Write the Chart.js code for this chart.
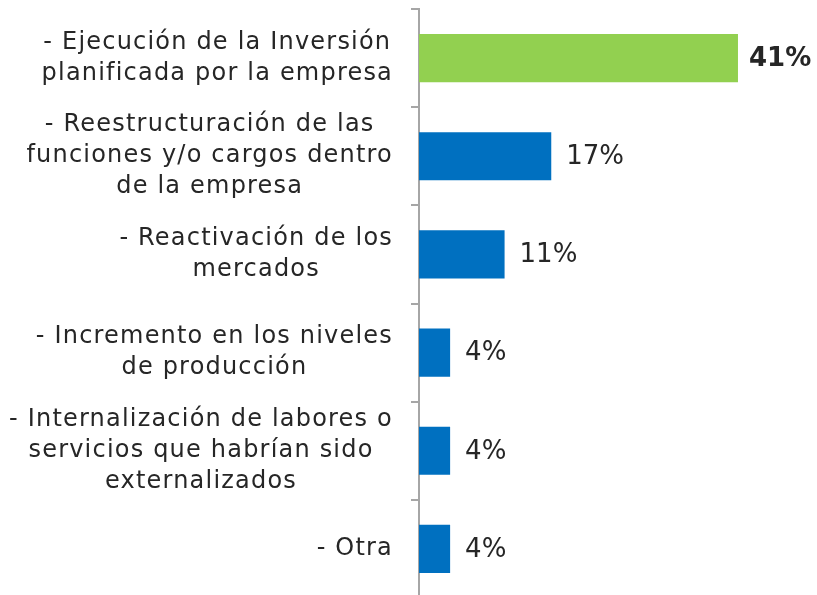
<!DOCTYPE html>
<html>
<head>
<meta charset="utf-8">
<script src="https://cdn.jsdelivr.net/npm/chart.js@4.4.1/dist/chart.umd.min.js"></script>
<style>
  html, body { margin: 0; padding: 0; background: #fff; overflow: hidden; }
  #wrap { width: 817px; height: 598px; }
</style>
</head>
<body>
<div id="wrap"><canvas id="chart"></canvas></div>
<script>
// data
const categories = [
  ["- Ejecución de la Inversión", "planificada por la empresa"],
  ["- Reestructuración de las", "funciones y/o cargos dentro", "de la empresa"],
  ["- Reactivación de los", "mercados"],
  ["- Incremento en los niveles", "de producción"],
  ["- Internalización de labores o", "servicios que habrían sido", "externalizados"],
  ["- Otra"]
];
const values = [41, 17, 11, 4, 4, 4];
const barColors = ["#92D050", "#0070C0", "#0070C0", "#0070C0", "#0070C0", "#0070C0"];
const boldLabel = [true, false, false, false, false, false];

const FONT = "'DejaVu Sans', sans-serif";
const TEXT = "#262626";

// draws category labels: block right-aligned, lines centered inside block
const catLabels = {
  id: "catLabels",
  afterDraw(chart){
    const ctx = chart.ctx;
    const y = chart.scales.y;
    const rightEdge = y.right - 26;
    const lh = 31;
    ctx.save();
    ctx.font = "24px " + FONT;
    ctx.letterSpacing = "1.2px";
    ctx.fillStyle = TEXT;
    ctx.textAlign = "center";
    ctx.textBaseline = "middle";
    categories.forEach((lines, i) => {
      const cy = y.getPixelForValue(i);
      const w = Math.max(...lines.map(l => ctx.measureText(l).width));
      const cx = rightEdge - w / 2;
      const top = cy - (lines.length - 1) * lh / 2;
      lines.forEach((l, k) => ctx.fillText(l, cx, top + k * lh));
    });
    ctx.restore();
  }
};

// value labels after each bar
const valueLabels = {
  id: "valueLabels",
  afterDatasetsDraw(chart){
    const ctx = chart.ctx;
    const meta = chart.getDatasetMeta(0);
    ctx.save();
    ctx.fillStyle = TEXT;
    ctx.textAlign = "left";
    ctx.textBaseline = "middle";
    meta.data.forEach((bar, i) => {
      ctx.font = (boldLabel[i] ? "bold " : "") + "26px " + FONT;
      ctx.fillText(values[i] + "%", bar.x + (boldLabel[i] ? 11 : 15), bar.y + 1);
    });
    ctx.restore();
  }
};

new Chart(document.getElementById("chart"), {
  type: "bar",
  data: {
    labels: categories,
    datasets: [{
      data: values,
      backgroundColor: barColors,
      borderWidth: 0,
      barPercentage: 0.49,
      categoryPercentage: 1
    }]
  },
  options: {
    indexAxis: "y",
    responsive: true,
    maintainAspectRatio: false,
    animation: false,
    layout: { padding: { top: 9, right: 9, bottom: 0, left: 0 } },
    plugins: { legend: { display: false }, tooltip: { enabled: false } },
    scales: {
      x: { display: false, min: 0, max: 50 },
      y: {
        afterFit(scale){ scale.width = 419; },
        border: { display: true, color: "#A6A6A6", width: 2 },
        grid: {
          offset: true,
          drawOnChartArea: false,
          drawTicks: true,
          tickLength: 8,
          color: "#A6A6A6",
          lineWidth: 2
        },
        ticks: { display: false }
      }
    }
  },
  plugins: [catLabels, valueLabels]
});
</script>
</body>
</html>
